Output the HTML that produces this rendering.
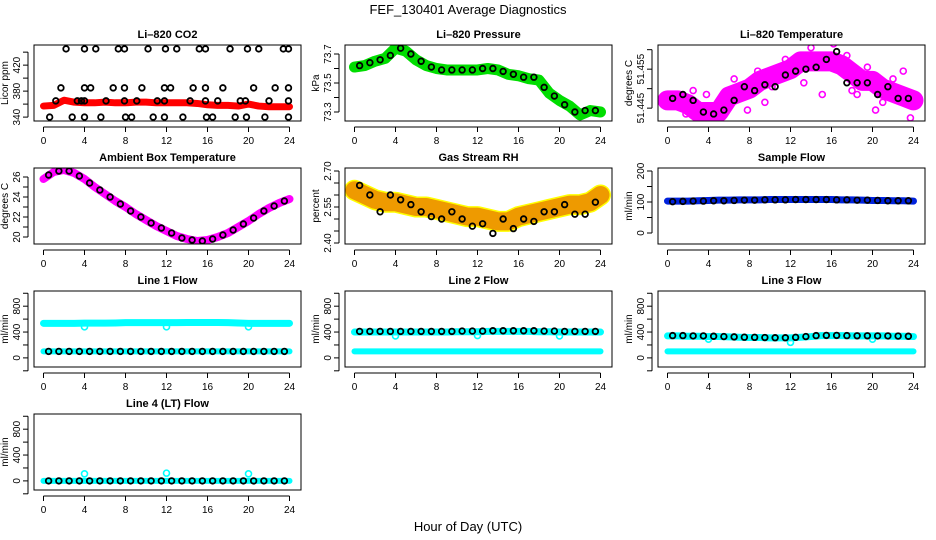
<!DOCTYPE html>
<html><head><meta charset="utf-8"><style>
html,body{margin:0;padding:0;background:#fff}
svg{display:block;font-family:"Liberation Sans",Arial,sans-serif}
</style></head><body>
<svg id="chart" width="936" height="540" viewBox="0 0 936 540">
<text x="468" y="14" text-anchor="middle" font-size="13">FEF_130401  Average Diagnostics</text>
<text x="468" y="531" text-anchor="middle" font-size="13">Hour of Day (UTC)</text>
</svg>
<script>
const bandHours=[0,1,2,3,4,5,6,7,8,9,10,11,12,13,14,15,16,17,18,19,20,21,22,23,24];
const ptHours=[0.5,1.5,2.5,3.5,4.5,5.5,6.5,7.5,8.5,9.5,10.5,11.5,12.5,13.5,14.5,15.5,16.5,17.5,18.5,19.5,20.5,21.5,22.5,23.5];
const xTicks=[0,4,8,12,16,20,24];

const co2Band=[357,358,366,363,362,362,363,362,362,363,363,362,362,362,362,361,359,358,358,357,360,357,356,356,356];
const co2PtX=[2.2,4,5.1,7.3,7.9,10.2,11.9,13,15.2,15.8,18.2,19.9,21,23.4,23.9,1.7,4,4.6,6.8,7.9,9.6,11.8,12.4,14.6,15.8,17.5,20.5,22.6,23.9,1.2,3.3,3.7,4,6.1,7.9,9.1,11.1,11.8,14.3,15.8,17,19.2,19.7,22,23.9,0.6,2.8,4,5.6,8,8.6,10.7,11.8,13.6,15.9,16.5,18.7,19.8,21.6,23.9];
const co2PtY=[445,445,445,445,445,445,445,445,445,445,445,445,445,445,445,385,385,385,385,385,385,385,385,385,385,385,385,385,385,365,365,365,365,365,365,365,365,365,365,365,365,365,365,365,365,340,340,340,340,340,340,340,340,340,340,340,340,340,340,340];

const pressBand=[73.61,73.62,73.65,73.67,73.74,73.72,73.66,73.62,73.6,73.59,73.59,73.59,73.59,73.6,73.59,73.56,73.55,73.53,73.52,73.43,73.38,73.34,73.28,73.31,73.3];
const pressPts=[73.62,73.64,73.66,73.69,73.74,73.70,73.65,73.61,73.59,73.59,73.59,73.59,73.60,73.60,73.58,73.56,73.54,73.54,73.47,73.41,73.35,73.30,73.31,73.31];

const tempBand=[51.447,51.447,51.446,51.444,51.444,51.444,51.448,51.449,51.450,51.452,51.453,51.454,51.455,51.457,51.457,51.457,51.457,51.456,51.454,51.452,51.452,51.450,51.449,51.448,51.447];
const tempPts=[51.4475,51.4485,51.447,51.444,51.4435,51.4445,51.447,51.4505,51.4495,51.451,51.4505,51.4535,51.4545,51.455,51.4555,51.4575,51.4595,51.4515,51.4515,51.4515,51.4485,51.4505,51.4475,51.4475];
const tempScatX=[0.3,1.8,2.5,3,3.8,4.9,5.5,6.5,7.8,8.8,10.2,11.5,12.5,14,15.1,16.2,17.5,18.5,19.5,20.3,21,22,23,23.7,1.2,9.5,13.3,18,21.8,5.9];
const tempScatY=[51.446,51.4435,51.4495,51.442,51.4485,51.4425,51.4435,51.4525,51.4445,51.4545,51.4505,51.4575,51.4565,51.4605,51.4485,51.4615,51.4585,51.4485,51.4555,51.4445,51.4465,51.4525,51.4545,51.4425,51.4455,51.4465,51.4515,51.4495,51.4495,51.4495];

const ambBand=[25.8,26.5,26.7,26.4,25.8,25.0,24.3,23.6,23.0,22.3,21.7,21.1,20.6,20.1,19.8,19.6,19.7,20.0,20.4,21.0,21.6,22.3,22.9,23.4,23.8];
const ambPts=[26.2,26.6,26.6,26.1,25.4,24.7,24.0,23.3,22.6,22.0,21.4,20.9,20.4,19.9,19.7,19.6,19.8,20.2,20.7,21.3,21.9,22.6,23.1,23.6];

const rhBand=[2.62,2.60,2.58,2.57,2.57,2.56,2.55,2.55,2.54,2.53,2.52,2.51,2.51,2.50,2.49,2.49,2.51,2.52,2.53,2.54,2.55,2.56,2.56,2.57,2.60];
const rhPts=[2.64,2.60,2.53,2.60,2.58,2.56,2.53,2.51,2.50,2.53,2.50,2.47,2.48,2.44,2.50,2.46,2.50,2.49,2.53,2.53,2.56,2.52,2.52,2.57];

const sampBand=[103,103,103,104,105,106,106,107,107,107,108,108,108,108,108,108,108,107,107,106,105,105,104,104,103];
const sampPts=[101,102,103,103,104,104,105,106,106,107,107,107,108,108,108,108,107,107,106,106,105,104,104,104];

const dipHours=[4,12,20];
const lowCyan=[100,100,100,100,100,100,100,100,100,100,100,100,100,100,100,100,100,100,100,100,100,100,100,100,100];
const l1Top=[535,535,535,535,538,538,538,540,545,545,545,545,545,545,548,548,548,548,545,540,535,535,535,535,535];
const l1Pts=[100,100,100,100,100,100,100,100,100,100,100,100,100,100,100,100,100,100,100,100,100,100,100,100];
const l1Dips=[480,480,480];
const l2Top=[400,400,400,400,400,400,400,400,400,400,405,405,405,410,410,410,410,410,405,405,400,400,400,400,400];
const l2Pts=[410,410,410,410,410,410,410,410,410,410,415,415,415,420,420,420,420,420,415,415,410,410,410,410];
const l2Dips=[340,345,340];
const l3Top=[340,340,335,335,330,330,325,320,315,315,310,310,310,320,330,345,345,345,340,340,340,340,335,335,330];
const l3Pts=[345,345,340,340,335,330,325,320,318,315,312,312,318,330,345,348,348,345,342,342,340,340,338,335];
const l3Dips=[290,240,290];
const l4Band=[0,0,0,0,0,0,0,0,0,0,0,0,0,0,0,0,0,0,0,0,0,0,0,0,0];
const l4Pts=[0,0,0,0,0,0,0,0,0,0,0,0,0,0,0,0,0,0,0,0,0,0,0,0];
const l4Dips=[110,120,110];

const NS='http://www.w3.org/2000/svg';
const svg=document.getElementById('chart');
const colL=[34,345,658], rowT=[45,168,291,414], W=267, H=76;
let clipN=0;
function mk(tag,attrs,parent){const e=document.createElementNS(NS,tag);for(const k in attrs)e.setAttribute(k,attrs[k]);(parent||svg).appendChild(e);return e;}

function panel(o){
  const L=colL[o.col], T=rowT[o.row], B=T+H, R=L+W;
  const g=mk('g',{});
  
  
  const cid='clip'+(clipN++);
  const cp=mk('clipPath',{id:cid},g);
  mk('rect',{x:L,y:T,width:W,height:H},cp);
  const d=mk('g',{'clip-path':`url(#${cid})`},g);
  
  
  const x=h=>L+9.5+h*10.25;
  const y=v=>B-(v-o.dom[0])/(o.dom[1]-o.dom[0])*H;
  const t=mk('text',{x:(L+R)/2,y:T-7,'text-anchor':'middle','font-size':11,'font-weight':'bold'},g);
  t.textContent=o.title;
  
  
  (o.bands||[]).forEach(b=>{
    const pts=bandHours.map((h,i)=>x(h)+','+y(b.v[i])).join(' ');
    if(b.edge){const e=mk('polyline',{points:pts,fill:'none',stroke:b.edge,'stroke-width':b.w+3,'stroke-linejoin':'round','stroke-linecap':'round'},d);
      }
    const p=mk('polyline',{points:pts,fill:'none',stroke:b.c,'stroke-width':b.w,'stroke-linejoin':'round','stroke-linecap':'round'},d);
    
    
  });
  (o.scat||[]).forEach(s=>{
    s.x.forEach((h,i)=>{const c=mk('circle',{cx:x(h),cy:y(s.y[i]),r:s.r||3,fill:'none',stroke:s.c,'stroke-width':1.6},d);
      });
  });
  (o.pts||[]).forEach(s=>{
    s.y.forEach((v,i)=>{const c=mk('circle',{cx:x(s.x[i]),cy:y(v),r:2.8,fill:'none',stroke:'#000','stroke-width':1.8},d);
      });
  });
  const box=mk('rect',{x:L,y:T,width:W,height:H,fill:'none',stroke:'#000','stroke-width':1},g);
  
  
  mk('line',{x1:x(0),x2:x(24),y1:B+6,y2:B+6,stroke:'#000'},g);
  xTicks.forEach(h=>{mk('line',{x1:x(h),x2:x(h),y1:B+6,y2:B+11,stroke:'#000'},g);
    const tx=mk('text',{x:x(h),y:B+23,'text-anchor':'middle','font-size':10},g);tx.textContent=h;
    });
  const yt=o.yt;
  mk('line',{x1:L-6,x2:L-6,y1:y(yt[0]),y2:y(yt[yt.length-1]),stroke:'#000'},g);
  yt.forEach((v,i)=>{mk('line',{x1:L-11,x2:L-6,y1:y(v),y2:y(v),stroke:'#000'},g);
    const lab=o.yl[i]; if(lab){const tx=mk('text',{x:0,y:0,'text-anchor':'middle','font-size':10,transform:`translate(${L-14},${y(v)}) rotate(-90)`},g);tx.textContent=lab;
    }});
  const yt2=mk('text',{x:0,y:0,'text-anchor':'middle','font-size':10,transform:`translate(${L-26},${(T+B)/2}) rotate(-90)`},g);
  yt2.textContent=o.ylab;
  
  
}
const flowTicks=[-200,0,200,400,600,800,1000], flowLabs=['','0','','400','','800',''];
panel({name:'co2-panel',col:0,row:0,title:'Li–820 CO2',ylab:'Licor ppm',dom:[334,451],yt:[340,360,380,400,420,440],yl:['340','','380','','420',''],
  bands:[{v:co2Band,c:'#ff0000',w:7}],pts:[{x:co2PtX,y:co2PtY}]});
panel({name:'pressure-panel',col:1,row:0,title:'Li–820 Pressure',ylab:'kPa',dom:[73.238,73.762],yt:[73.3,73.4,73.5,73.6,73.7],yl:['73.3','','73.5','','73.7'],
  bands:[{v:pressBand,c:'#00dd00',w:11}],pts:[{x:ptHours,y:pressPts}]});
panel({name:'temperature-panel',col:2,row:0,title:'Li–820 Temperature',ylab:'degrees C',dom:[51.4417,51.4612],yt:[51.445,51.45,51.455,51.46],yl:['51.445','','51.455',''],
  bands:[{v:tempBand,c:'#ff00ff',w:20}],scat:[{x:tempScatX,y:tempScatY,c:'#ff00ff'}],pts:[{x:ptHours,y:tempPts}]});
panel({name:'ambient-temp-panel',col:0,row:1,title:'Ambient Box Temperature',ylab:'degrees C',dom:[19.3,26.9],yt:[20,21,22,23,24,25,26],yl:['20','','22','','24','','26'],
  bands:[{v:ambBand,c:'#ff00ff',w:8}],pts:[{x:ptHours,y:ambPts}]});
panel({name:'rh-panel',col:1,row:1,title:'Gas Stream RH',ylab:'percent',dom:[2.3958,2.7125],yt:[2.40,2.45,2.50,2.55,2.60,2.65,2.70],yl:['2.40','','','2.55','','','2.70'],
  bands:[{v:rhBand,c:'#ee9a00',w:18,edge:'#ffff00'}],pts:[{x:ptHours,y:rhPts}]});
panel({name:'sample-flow-panel',col:2,row:1,title:'Sample Flow',ylab:'ml/min',dom:[-35.5,209.7],yt:[0,50,100,150,200],yl:['0','','100','','200'],
  bands:[{v:sampBand,c:'#0022dd',w:7}],pts:[{x:ptHours,y:sampPts}]});
panel({name:'line1-flow-panel',col:0,row:2,title:'Line 1 Flow',ylab:'ml/min',dom:[-141,1035],yt:flowTicks,yl:flowLabs,
  bands:[{v:l1Top,c:'#00ffff',w:7},{v:lowCyan,c:'#00ffff',w:6}],scat:[{x:dipHours,y:l1Dips,c:'#00ffff'}],pts:[{x:ptHours,y:l1Pts}]});
panel({name:'line2-flow-panel',col:1,row:2,title:'Line 2 Flow',ylab:'ml/min',dom:[-141,1035],yt:flowTicks,yl:flowLabs,
  bands:[{v:l2Top,c:'#00ffff',w:7},{v:lowCyan,c:'#00ffff',w:6}],scat:[{x:dipHours,y:l2Dips,c:'#00ffff'}],pts:[{x:ptHours,y:l2Pts}]});
panel({name:'line3-flow-panel',col:2,row:2,title:'Line 3 Flow',ylab:'ml/min',dom:[-141,1035],yt:flowTicks,yl:flowLabs,
  bands:[{v:l3Top,c:'#00ffff',w:7},{v:lowCyan,c:'#00ffff',w:6}],scat:[{x:dipHours,y:l3Dips,c:'#00ffff'}],pts:[{x:ptHours,y:l3Pts}]});
panel({name:'line4-flow-panel',col:0,row:3,title:'Line 4 (LT) Flow',ylab:'ml/min',dom:[-141,1035],yt:flowTicks,yl:flowLabs,
  bands:[{v:l4Band,c:'#00ffff',w:6}],scat:[{x:dipHours,y:l4Dips,c:'#00ffff'}],pts:[{x:ptHours,y:l4Pts}]});
</script>
</body></html>
